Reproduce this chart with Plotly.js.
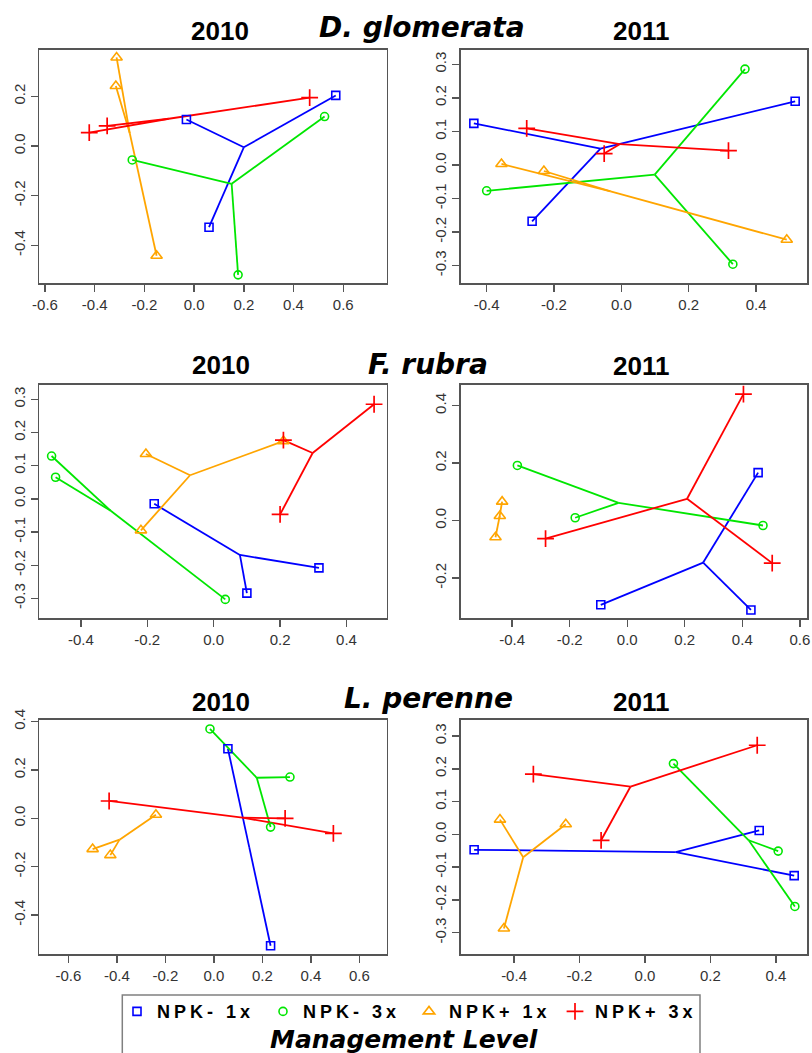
<!DOCTYPE html>
<html><head><meta charset="utf-8">
<script src="https://cdn.plot.ly/plotly-3.0.1.min.js"></script>
<style>
html,body{margin:0;padding:0;background:#fff;}
#chart{width:812px;height:1053px;}
.legendtext{letter-spacing:4px;}
</style></head><body><div id="chart"></div>
<script>
// ---------- categories / titles ----------
const groupNames = ["NPK- 1x", "NPK- 3x", "NPK+ 1x", "NPK+ 3x"];
const yearTitles = ["2010", "2011", "2010", "2011", "2010", "2011"];
const speciesTitles = ["D. glomerata", "F. rubra", "L. perenne"];
const legendTitle = "Management Level";

// ---------- data (per group: point coords + group centroid) ----------
// D. glomerata 2010
const dg10_px = [[0.570, -0.031, 0.060], [0.525, -0.249, 0.177], [-0.312, -0.315, -0.151], [0.465, -0.422, -0.350]];
const dg10_py = [[0.204, 0.107, -0.327], [0.119, -0.056, -0.519], [0.357, 0.242, -0.442], [0.195, 0.054, 0.081]];
const dg10_cx = [0.200, 0.151, -0.259, -0.102];
const dg10_cy = [-0.005, -0.152, 0.052, 0.110];
// D. glomerata 2011
const dg11_px = [[-0.438, 0.516, -0.265], [0.367, -0.400, 0.331], [-0.356, -0.230, 0.491], [-0.281, -0.051, 0.318]];
const dg11_py = [[0.124, 0.190, -0.168], [0.286, -0.077, -0.296], [0.003, -0.018, -0.223], [0.109, 0.034, 0.043]];
const dg11_cx = [-0.062, 0.099, -0.032, -0.005];
const dg11_cy = [0.049, -0.029, -0.079, 0.062];
// F. rubra 2010
const fr10_px = [[-0.179, 0.317, 0.100], [-0.488, -0.476, 0.035], [-0.204, 0.210, -0.219], [0.483, 0.210, 0.200]];
const fr10_py = [[-0.015, -0.208, -0.284], [0.129, 0.065, -0.303], [0.135, 0.174, -0.095], [0.285, 0.177, -0.047]];
const fr10_cx = [0.079, -0.310, -0.071, 0.298];
const fr10_cy = [-0.169, -0.036, 0.071, 0.138];
// F. rubra 2011
const fr11_px = [[0.455, -0.092, 0.430], [-0.382, -0.181, 0.472], [-0.435, -0.443, -0.458], [0.404, -0.284, 0.504]];
const fr11_py = [[0.167, -0.293, -0.311], [0.192, 0.010, -0.017], [0.066, 0.016, -0.058], [0.440, -0.063, -0.148]];
const fr11_cx = [0.264, -0.030, -0.445, 0.208];
const fr11_cy = [-0.146, 0.062, 0.008, 0.076];
// L. perenne 2010
const lp10_px = [[0.058, 0.234], [-0.016, 0.314, 0.234], [-0.239, -0.500, -0.427], [-0.432, 0.294, 0.493]];
const lp10_py = [[0.288, -0.527], [0.370, 0.171, -0.036], [0.015, -0.127, -0.152], [0.072, 0.000, -0.062]];
const lp10_cx = [0.146, 0.177, -0.389, 0.118];
const lp10_cy = [-0.119, 0.168, -0.088, 0.003];
// L. perenne 2011
const lp11_px = [[-0.522, 0.349, 0.456], [0.087, 0.407, 0.458], [-0.443, -0.242, -0.431], [-0.341, 0.343, -0.134]];
const lp11_py = [[-0.047, 0.012, -0.126], [0.216, -0.051, -0.220], [0.045, 0.031, -0.287], [0.184, 0.272, -0.018]];
const lp11_cx = [0.094, 0.317, -0.372, -0.044];
const lp11_cy = [-0.054, -0.018, -0.070, 0.146];

// ---------- tick values / labels ----------
const ticksA = [-0.6, -0.4, -0.2, 0, 0.2, 0.4, 0.6];
const labelsA = ["-0.6", "-0.4", "-0.2", "0.0", "0.2", "0.4", "0.6"];
const ticksB = [-0.4, -0.2, 0, 0.2, 0.4];
const labelsB = ["-0.4", "-0.2", "0.0", "0.2", "0.4"];
const ticksC = [-0.4, -0.2, 0, 0.2, 0.4, 0.6];
const labelsC = ["-0.4", "-0.2", "0.0", "0.2", "0.4", "0.6"];
const ticksD = [-0.3, -0.2, -0.1, 0, 0.1, 0.2, 0.3];
const labelsD = ["-0.3", "-0.2", "-0.1", "0.0", "0.1", "0.2", "0.3"];
const ticksE = [-0.4, -0.2, 0, 0.2];
const labelsE = ["-0.4", "-0.2", "0.0", "0.2"];
const ticksF = [-0.2, 0, 0.2, 0.4];
const labelsF = ["-0.2", "0.0", "0.2", "0.4"];

// ---------- styling ----------
const colors = ["#0000FF", "#00E600", "#FFA500", "#FF0000"];
const symbols = ["square-open", "circle-open", "triangle-up-open", "cross-thin-open"];
const msizes = [8, 8, 10, 12];

const W = 812, H = 1053;
const panels = [
  {px: dg10_px, py: dg10_py, cx: dg10_cx, cy: dg10_cy, box: [39.3, 386.7, 50, 283.3], xr: [-0.623, 0.775], yr: [-0.553, 0.387], xt: [ticksA, labelsA], yt: [ticksE, labelsE]},
  {px: dg11_px, py: dg11_py, cx: dg11_cx, cy: dg11_cy, box: [460.7, 807.3, 50, 283.3], xr: [-0.477, 0.552], yr: [-0.353, 0.343], xt: [ticksB, labelsB], yt: [ticksD, labelsD]},
  {px: fr10_px, py: fr10_py, cx: fr10_cx, cy: fr10_cy, box: [39.3, 386.7, 385, 618.3], xr: [-0.525, 0.521], yr: [-0.360, 0.343], xt: [ticksB, labelsB], yt: [ticksD, labelsD]},
  {px: fr11_px, py: fr11_py, cx: fr11_cx, cy: fr11_cy, box: [460.7, 807.3, 385, 618.3], xr: [-0.579, 0.626], yr: [-0.340, 0.472], xt: [ticksC, labelsC], yt: [ticksF, labelsF]},
  {px: lp10_px, py: lp10_py, cx: lp10_cx, cy: lp10_cy, box: [39.3, 386.7, 720, 954], xr: [-0.720, 0.713], yr: [-0.561, 0.407], xt: [ticksA, labelsA], yt: [ticksB, labelsB]},
  {px: lp11_px, py: lp11_py, cx: lp11_cx, cy: lp11_cy, box: [460.7, 807.3, 720, 954], xr: [-0.563, 0.496], yr: [-0.365, 0.349], xt: [ticksB, labelsB], yt: [ticksD, labelsD]}
];

const tickFont = {family: "Liberation Sans, Arial, sans-serif", size: 15, color: "#333"};
const axisBase = {
  ticks: "outside", ticklen: 7, tickwidth: 1.4, tickcolor: "#555",
  showline: true, mirror: true, linecolor: "#555", linewidth: 1.6,
  showgrid: false, zeroline: false, tickfont: tickFont, fixedrange: true,
  tickmode: "array"
};

const traces = [];
const layout = {
  width: W, height: H, margin: {l: 0, r: 0, t: 0, b: 0},
  paper_bgcolor: "#fff", plot_bgcolor: "#fff",
  showlegend: true,
  legend: {
    orientation: "h", x: 117 / W, xanchor: "left", y: 1 - 1011.7 / H, yanchor: "middle",
    bgcolor: "rgba(0,0,0,0)", borderwidth: 0,
    font: {family: "Liberation Sans, Arial, sans-serif", size: 18, color: "#000", weight: "bold"},
    entrywidth: 101, entrywidthmode: "pixels", itemclick: false, itemdoubleclick: false,
    tracegroupgap: 0
  },
  annotations: [], shapes: []
};

panels.forEach((p, i) => {
  const k = i + 1;
  const xa = "x" + (k === 1 ? "" : k), ya = "y" + (k === 1 ? "" : k);
  layout["xaxis" + (k === 1 ? "" : k)] = Object.assign({}, axisBase, {
    domain: [p.box[0] / W, p.box[1] / W], range: p.xr, anchor: ya,
    tickvals: p.xt[0], ticktext: p.xt[1]
  });
  layout["yaxis" + (k === 1 ? "" : k)] = Object.assign({}, axisBase, {
    domain: [1 - p.box[3] / H, 1 - p.box[2] / H], range: p.yr, anchor: xa,
    tickvals: p.yt[0], ticktext: p.yt[1], tickangle: -90
  });
  for (let g = 0; g < 4; g++) {
    const lx = [], ly = [];
    p.px[g].forEach((v, j) => {
      if (j > 0) { lx.push(null); ly.push(null); }
      lx.push(p.cx[g], v); ly.push(p.cy[g], p.py[g][j]);
    });
    traces.push({
      type: "scatter", mode: "lines", x: lx, y: ly, xaxis: xa, yaxis: ya,
      line: {color: colors[g], width: 1.8}, showlegend: false, hoverinfo: "skip"
    });
  }
  for (let g = 0; g < 4; g++) {
    traces.push({
      type: "scatter", mode: "markers", x: p.px[g], y: p.py[g], xaxis: xa, yaxis: ya,
      name: groupNames[g], showlegend: k === 1,
      marker: {symbol: symbols[g], size: msizes[g], color: colors[g],
               line: {color: colors[g], width: g === 3 ? 1.7 : 1.6}},
      hoverinfo: "skip"
    });
  }
});

// year titles
const yearPos = [[220, 31], [640.5, 31], [221, 365], [641, 366], [221, 702], [641, 702]];
yearTitles.forEach((t, i) => {
  layout.annotations.push({
    text: t, xref: "paper", yref: "paper", x: yearPos[i][0] / W, y: 1 - yearPos[i][1] / H,
    xanchor: "center", yanchor: "middle", showarrow: false,
    font: {family: "Liberation Sans, Arial, sans-serif", size: 26, color: "#000", weight: "bold"}
  });
});
// species titles
const speciesPos = [[421.7, 27], [427.5, 364], [428, 698]];
speciesTitles.forEach((t, i) => {
  layout.annotations.push({
    text: t, xref: "paper", yref: "paper", x: speciesPos[i][0] / W, y: 1 - speciesPos[i][1] / H,
    xanchor: "center", yanchor: "middle", showarrow: false,
    font: {family: "DejaVu Sans, Verdana, sans-serif", size: 28, color: "#000", weight: "bold", style: "italic"}
  });
});
// legend title + box
layout.annotations.push({
  text: legendTitle, xref: "paper", yref: "paper", x: 404 / W, y: 1 - 1039 / H,
  xanchor: "center", yanchor: "middle", showarrow: false,
  font: {family: "DejaVu Sans, Verdana, sans-serif", size: 25, color: "#000", weight: "bold", style: "italic"}
});
layout.shapes.push({
  type: "rect", xref: "paper", yref: "paper",
  x0: 122.3 / W, x1: 700 / W, y0: -0.01, y1: 1 - 995 / H,
  line: {color: "#808080", width: 1.5}, fillcolor: "rgba(0,0,0,0)"
});

Plotly.newPlot("chart", traces, layout, {displayModeBar: false, staticPlot: true});
</script></body></html>
